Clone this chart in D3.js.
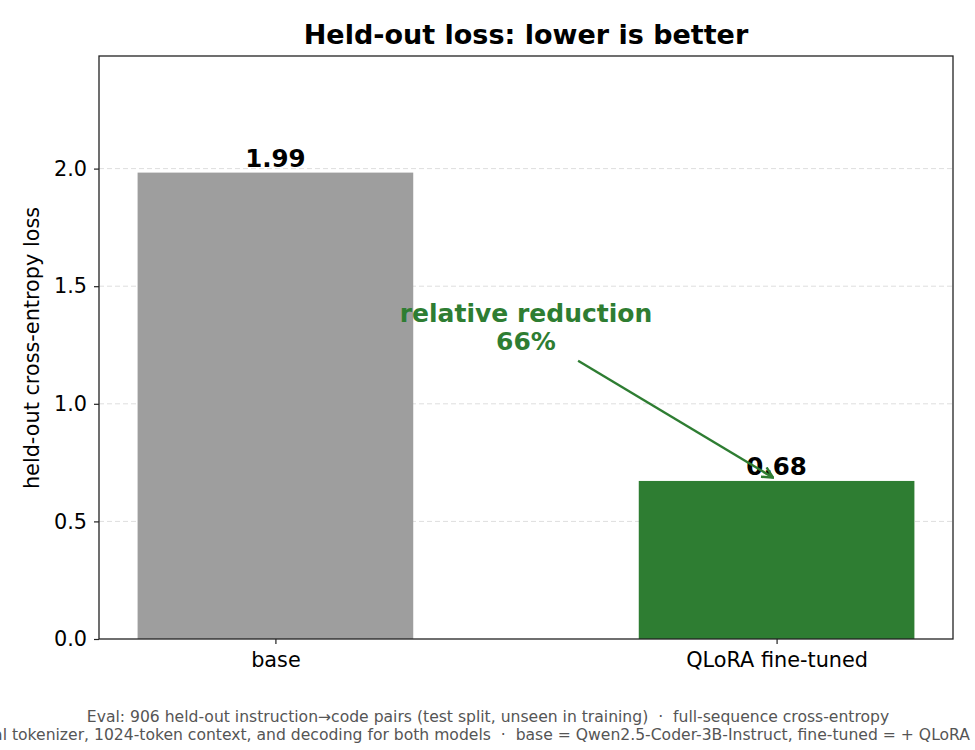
<!DOCTYPE html>
<html><head><meta charset="utf-8">
<script src="https://cdn.jsdelivr.net/npm/d3@7"></script>
<style>body{margin:0;background:#fff}svg{display:block;font-family:"DejaVu Sans",sans-serif}text{white-space:pre}</style>
</head><body><svg id="c" width="975" height="750"></svg>
<script>
const categories = ["base", "QLoRA fine-tuned"];
const losses = [1.983, 0.672];
const valueLabels = ["1.99", "0.68"];
const yTicks = [0.0, 0.5, 1.0, 1.5, 2.0];
const barColors = ["#9e9e9e", "#2e7d32"];
const titleText = "Held-out loss: lower is better";
const yLabel = "held-out cross-entropy loss";
const annotLines = ["relative reduction", "66%"];
const annotText = [0.5, 1.349];
const arrowFrom = [0.604, 1.183];
const arrowTo = [0.993, 0.686];
const footer = [
  "Eval: 906 held-out instruction\u2192code pairs (test split, unseen in training)  \u00b7  full-sequence cross-entropy",
  "Identical tokenizer, 1024-token context, and decoding for both models  \u00b7  base = Qwen2.5-Coder-3B-Instruct, fine-tuned = + QLoRA adapter"
];

const svg = d3.select("#c");
const L = 99, R = 953, T = 56, B = 639;
const x = d3.scaleLinear().domain([-0.352, 1.352]).range([L, R]);
const y = d3.scaleLinear().domain([0, losses[0] * 1.25]).range([B, T]);
const bw = 0.55;

// grid
svg.append("g").selectAll("line").data(yTicks.filter(d => d > 0)).join("line")
  .attr("x1", L).attr("x2", R).attr("y1", d => y(d)).attr("y2", d => y(d))
  .attr("stroke", "#dedede").attr("stroke-width", 1).attr("stroke-dasharray", "5,3");

// bars
svg.append("g").selectAll("rect").data(losses).join("rect")
  .attr("x", (d, i) => x(i - bw / 2)).attr("width", (d, i) => x(i + bw / 2) - x(i - bw / 2))
  .attr("y", d => y(d)).attr("height", d => y(0) - y(d))
  .attr("fill", (d, i) => barColors[i]);

// value labels
svg.append("g").selectAll("text").data(losses).join("text")
  .attr("x", (d, i) => x(i)).attr("y", d => y(d) - 6)
  .attr("text-anchor", "middle").attr("font-weight", "bold").attr("font-size", 24.5).attr("fill", "#000")
  .text((d, i) => valueLabels[i]);

// axes
const yAxis = d3.axisLeft(y).tickValues(yTicks).tickFormat(d3.format(".1f")).tickSize(5).tickPadding(7);
const gy = svg.append("g").attr("transform", `translate(${L},0)`).call(yAxis);
const xAxis = d3.axisBottom(x).tickValues([0, 1]).tickFormat((d, i) => categories[i]).tickSize(5).tickPadding(8);
const gx = svg.append("g").attr("transform", `translate(0,${B})`).call(xAxis);
[gy, gx].forEach(g => {
  g.select(".domain").remove();
  g.selectAll(".tick line").attr("stroke", "#222").attr("stroke-width", 1.2);
  g.selectAll(".tick text").attr("font-size", 20.8).attr("fill", "#000").attr("font-family", "DejaVu Sans, sans-serif");
});
svg.append("rect").attr("x", L).attr("y", T).attr("width", R - L).attr("height", B - T)
  .attr("fill", "none").attr("stroke", "#222").attr("stroke-width", 1.3);

// y label
svg.append("text").attr("transform", `translate(39,${348}) rotate(-90)`)
  .attr("text-anchor", "middle").attr("font-size", 20.8).attr("fill", "#000").text(yLabel);

// title
svg.append("text").attr("x", (L + R) / 2).attr("y", 44).attr("text-anchor", "middle")
  .attr("font-size", 27).attr("font-weight", "bold").attr("fill", "#000").text(titleText);

// annotation
const defs = svg.append("defs");
defs.append("marker").attr("id", "ah").attr("viewBox", "0 0 12 12").attr("refX", 11).attr("refY", 6)
  .attr("markerWidth", 13).attr("markerHeight", 13).attr("markerUnits", "userSpaceOnUse").attr("orient", "auto")
  .append("path").attr("d", "M1,1 L11,6 L1,11").attr("fill", "none").attr("stroke", "#2e7d32").attr("stroke-width", 2.2);
svg.append("line").attr("x1", x(arrowFrom[0])).attr("y1", y(arrowFrom[1]))
  .attr("x2", x(arrowTo[0])).attr("y2", y(arrowTo[1]))
  .attr("stroke", "#2e7d32").attr("stroke-width", 2.4).attr("marker-end", "url(#ah)");
const at = svg.append("text").attr("text-anchor", "middle").attr("font-weight", "bold")
  .attr("font-size", 25).attr("fill", "#2e7d32");
annotLines.forEach((s, i) => at.append("tspan").attr("x", x(annotText[0])).attr("y", y(annotText[1]) + i * 28).text(s));

// footer
svg.append("g").selectAll("text").data(footer).join("text")
  .attr("x", 488).attr("y", (d, i) => 722 + i * 18).attr("text-anchor", "middle")
  .attr("font-size", 15.6).attr("fill", "#555").text(d => d);
</script></body></html>
